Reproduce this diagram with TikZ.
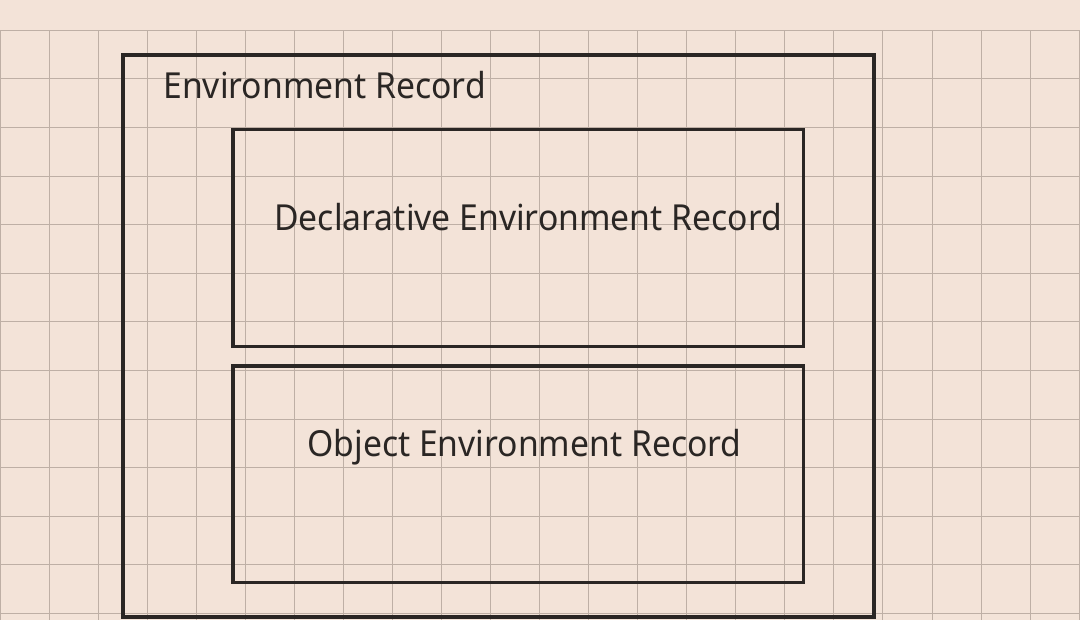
\documentclass[tikz,border=0pt]{standalone}
\usepackage{fontspec}
\setmainfont[FakeStretch=0.94]{Noto Sans}
\definecolor{paper}{RGB}{243,227,216}
\definecolor{gridline}{RGB}{190,175,165}
\definecolor{ink}{RGB}{42,38,36}
\tikzset{
  boxline/.style={draw=ink, line width=1.8pt},
  grid line/.style={draw=gridline, line width=0.5pt},
  label text/.style={text=ink, inner sep=0pt, anchor=base west,
    font=\fontsize{20.4pt}{24pt}\selectfont},
}
\begin{document}
\begin{tikzpicture}[x=0.02cm, y=-0.02cm]
  \fill[paper] (0,0) rectangle (1080,620);
  \useasboundingbox (0,0) rectangle (1080,620);
  % grid
  \foreach \i in {0,...,22}
    \draw[grid line] (\i*49.05,30.3) -- (\i*49.05,620);
  \foreach \j in {0,...,12}
    \draw[grid line] (0,30.3+\j*48.6) -- (1080,30.3+\j*48.6);
  % boxes
  \draw[boxline] (123,55) rectangle (874,617);
  \draw[boxline] (233,129.7) rectangle (803.3,346.7);
  \draw[boxline] (233,366) rectangle (803.3,582.3);
  \node[label text] (env) at (163,98.5) {Environment Record};
  \node[label text] (decl) at (274,230.7) {Declarative Environment Record};
  \node[label text] (obj) at (307,456.7) {Object Environment Record};
\end{tikzpicture}
\end{document}
